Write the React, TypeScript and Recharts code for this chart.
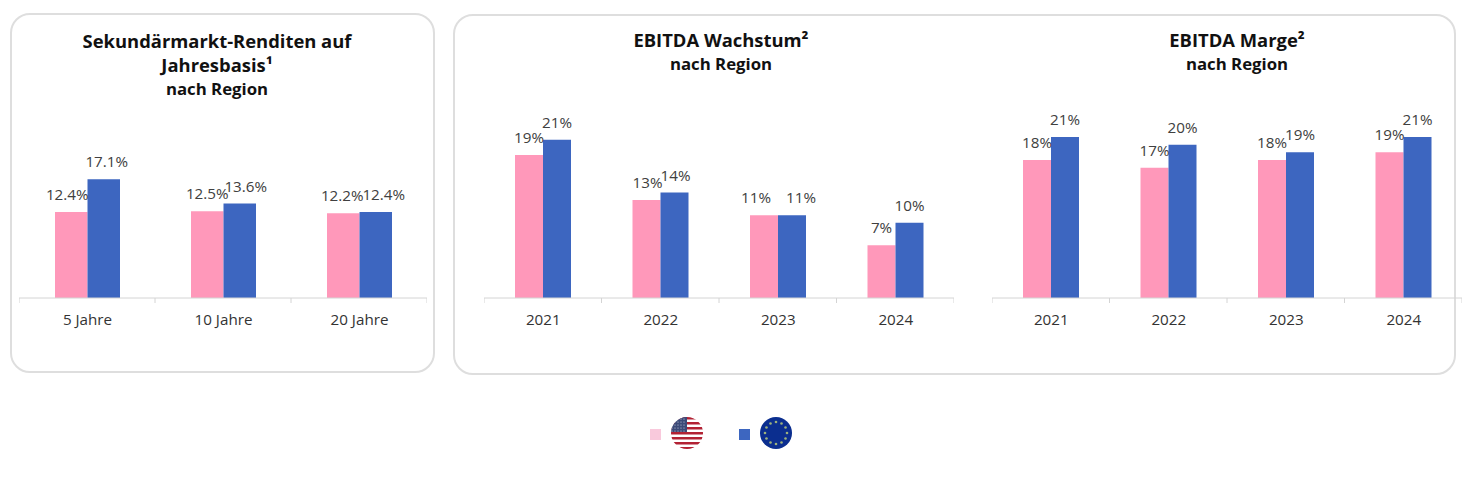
import { BarChart, Bar, XAxis, YAxis, LabelList } from 'recharts';

const FONT = '"Open Sans", sans-serif';
const US_COLOR = '#FF98BA';
const EU_COLOR = '#3D66C0';

const periods = ['5 Jahre', '10 Jahre', '20 Jahre'];
const returnsUs = [12.4, 12.5, 12.2];
const returnsEu = [17.1, 13.6, 12.4];

const years = ['2021', '2022', '2023', '2024'];
const growthUs = [19, 13, 11, 7];
const growthEu = [21, 14, 11, 10];
const marginUs = [18, 17, 18, 19];
const marginEu = [21, 20, 19, 21];

const toRows = (labels: string[], us: number[], eu: number[]) =>
  labels.map((label, i) => ({ label, us: us[i], eu: eu[i] }));

const PLOT_HEIGHT = 200;
const AXIS_HEIGHT = 40;
const BASELINE_Y = 298;

interface PanelProps {
  rows: { label: string; us: number; eu: number }[];
  left: number;
  width: number;
  yMax: number;
  barSize: number;
  digits: number;
  nudgeUs?: number[];
  nudgeEu?: number[];
}

const BarValueLabel = ({ x, y, width, value, index, digits, nudge }: any) => (
  <text
    x={Number(x) + Number(width) / 2 + (nudge ? nudge[index] : 0)}
    y={Number(y) - 18}
    textAnchor="middle"
    dominantBaseline="central"
    fontFamily={FONT}
    fontSize={15.2}
    fill="#404040"
  >
    {`${Number(value).toFixed(digits)}%`}
  </text>
);

const CategoryTick = ({ x, y, payload, index, band, count }: any) => (
  <g>
    <line x1={x - band / 2} x2={x - band / 2} y1={y - 8} y2={y - 3} stroke="#d4d4d4" />
    {index === count - 1 && (
      <line x1={x + band / 2} x2={x + band / 2} y1={y - 8} y2={y - 3} stroke="#d4d4d4" />
    )}
    <text x={x + 0.5} y={y + 13} textAnchor="middle" dominantBaseline="central" fontFamily={FONT} fontSize={15.2} fill="#333">
      {payload.value}
    </text>
  </g>
);

const Panel = ({ rows, left, width, yMax, barSize, digits, nudgeUs, nudgeEu }: PanelProps) => (
  <div style={{ position: 'absolute', left, top: BASELINE_Y - PLOT_HEIGHT }}>
    <BarChart
      width={width}
      height={PLOT_HEIGHT + AXIS_HEIGHT}
      data={rows}
      barSize={barSize}
      barGap={0}
      margin={{ top: 0, right: 0, bottom: 0, left: 0 }}
    >
      <XAxis
        dataKey="label"
        height={AXIS_HEIGHT}
        interval={0}
        axisLine={{ stroke: '#d4d4d4' }}
        tickLine={false}
        tick={<CategoryTick band={width / rows.length} count={rows.length} />}
      />
      <YAxis hide domain={[0, yMax]} />
      <Bar dataKey="us" fill={US_COLOR} isAnimationActive={false}>
        <LabelList dataKey="us" content={(p: any) => <BarValueLabel {...p} digits={digits} nudge={nudgeUs} />} />
      </Bar>
      <Bar dataKey="eu" fill={EU_COLOR} isAnimationActive={false}>
        <LabelList dataKey="eu" content={(p: any) => <BarValueLabel {...p} digits={digits} nudge={nudgeEu} />} />
      </Bar>
    </BarChart>
  </div>
);

const Title = ({ lines, center, top }: { lines: string[]; center: number; top: number }) => (
  <div style={{ position: 'absolute', left: center - 200, top, width: 400, textAlign: 'center', fontFamily: FONT, color: '#111' }}>
    {lines.map((line, i) => (
      <div key={line} style={{ height: 24, lineHeight: '24px', fontWeight: 700, fontSize: i === lines.length - 1 ? 16.8 : 18.4 }}>
        {line}
      </div>
    ))}
  </div>
);

const Card = ({ left, top, width, height }: { left: number; top: number; width: number; height: number }) => (
  <div
    style={{
      position: 'absolute',
      left,
      top,
      width,
      height,
      boxSizing: 'border-box',
      border: '2px solid #dedede',
      borderRadius: 20,
      background: '#fff',
    }}
  />
);

const UsFlag = () => (
  <svg width={34} height={34} viewBox="0 0 34 34">
    <defs>
      <clipPath id="usClip">
        <circle cx={17} cy={17} r={16} />
      </clipPath>
    </defs>
    <g clipPath="url(#usClip)">
      <rect width={34} height={34} fill="#fff" />
      {[1, 6, 11, 16, 21, 26, 31].map((y) => (
        <rect key={y} x={0} y={y} width={34} height={2.5} fill="#B22234" />
      ))}
      <rect x={0} y={0} width={17} height={16} fill="#3C4A78" />
      {[3, 6, 9, 12, 15].map((y) =>
        [2, 5, 8, 11, 14].map((x) => <circle key={`${x}-${y}`} cx={x} cy={y} r={0.6} fill="#C9CFE0" />)
      )}
    </g>
  </svg>
);

const EuFlag = () => {
  const stars = Array.from({ length: 12 }, (_, i) => (i * Math.PI) / 6);
  return (
    <svg width={34} height={34} viewBox="0 0 34 34">
      <circle cx={17} cy={17} r={16} fill="#0B2E8F" />
      {stars.map((a) => (
        <circle key={a} cx={17 + 11 * Math.cos(a)} cy={17 + 11 * Math.sin(a)} r={1.3} fill="#9DB27C" />
      ))}
    </svg>
  );
};

const LegendItem = ({ left, color, flag }: { left: number; color: string; flag: any }) => (
  <>
    <div style={{ position: 'absolute', left, top: 429, width: 11, height: 11, background: color }} />
    <div style={{ position: 'absolute', left: left + 20, top: 416, height: 34 }}>{flag}</div>
  </>
);

export default function App() {
  return (
    <div style={{ position: 'absolute', left: 0, top: 0, width: 1472, height: 477, overflow: 'hidden', background: '#fff' }}>
      <Card left={10} top={13} width={425} height={360} />
      <Card left={453} top={14} width={1003} height={361} />

      <Title lines={['Sekundärmarkt-Renditen auf', 'Jahresbasis¹', 'nach Region']} center={217} top={29} />
      <Title lines={['EBITDA Wachstum²', 'nach Region']} center={721} top={28} />
      <Title lines={['EBITDA Marge²', 'nach Region']} center={1237} top={28} />

      <Panel
        rows={toRows(periods, returnsUs, returnsEu)}
        left={18.5}
        width={408}
        yMax={28.8}
        barSize={32.5}
        digits={1}
        nudgeUs={[-4, 0, -1]}
        nudgeEu={[3, 6, 8]}
      />
      <Panel
        rows={toRows(years, growthUs, growthEu)}
        left={484}
        width={470}
        yMax={26.56}
        barSize={28}
        digits={0}
        nudgeUs={[0, 1, -8, 0]}
        nudgeEu={[0, 1, 9, 0]}
      />
      <Panel rows={toRows(years, marginUs, marginEu)} left={992} width={470} yMax={26.08} barSize={28} digits={0} />

      <LegendItem left={650} color="#F9C9DC" flag={<UsFlag />} />
      <LegendItem left={739} color={EU_COLOR} flag={<EuFlag />} />
    </div>
  );
}
